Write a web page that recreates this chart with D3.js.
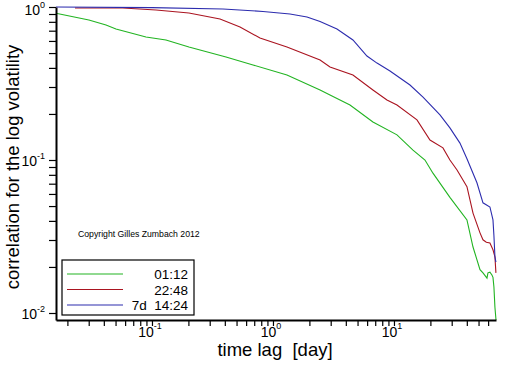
<!DOCTYPE html>
<html><head><meta charset="utf-8">
<script src="https://cdn.jsdelivr.net/npm/d3@7"></script>
<style>
html,body{margin:0;padding:0;background:#fff;}
svg{display:block;font-family:"Liberation Sans",Arial,Helvetica,sans-serif;}
</style></head><body>
<svg id="chart" width="512" height="366"></svg>
<script>
// ---- data ----
const seriesNames = ["01:12", "22:48", "7d  14:24"];
const seriesColors = ["#22b422", "#aa1420", "#2c2cae"];

const greenLag  = [0.0161, 0.0301, 0.0417, 0.0504, 0.0892, 0.1305, 0.202, 0.409, 0.684, 1.305, 2.45, 2.96, 4.33, 6.70, 10.59, 14.36, 18.04, 21.0, 29.0, 40.1, 45.0, 51.4, 54.4, 58.7, 59.8, 62.1, 64.5, 65.8, 67.0, 68.3, 69.7];
const greenCorr = [0.910, 0.822, 0.763, 0.718, 0.637, 0.609, 0.548, 0.471, 0.418, 0.359, 0.287, 0.266, 0.229, 0.177, 0.146, 0.116, 0.100, 0.082, 0.057, 0.0406, 0.027, 0.0192, 0.0183, 0.0169, 0.0183, 0.0185, 0.0177, 0.0171, 0.0148, 0.0109, 0.009];

const redLag  = [0.0231, 0.0576, 0.108, 0.202, 0.365, 0.534, 0.781, 1.305, 2.45, 2.96, 4.58, 6.70, 8.75, 10.59, 15.49, 19.84, 25.4, 29.0, 33.2, 40.1, 45.0, 51.4, 54.4, 58.0, 62.1, 65.8, 68.3, 69.6];
const redCorr = [0.985, 0.985, 0.956, 0.914, 0.835, 0.740, 0.627, 0.548, 0.450, 0.406, 0.359, 0.287, 0.247, 0.229, 0.183, 0.135, 0.120, 0.100, 0.086, 0.067, 0.045, 0.0334, 0.0301, 0.0290, 0.0287, 0.0259, 0.0233, 0.0183];

const blueLag  = [0.0161, 0.1, 0.386, 0.827, 1.382, 1.91, 2.45, 3.38, 4.58, 5.98, 7.24, 9.27, 13.56, 17.38, 24.0, 29.0, 35.1, 40.1, 48.5, 54.4, 62.1, 65.8, 67.0, 68.3, 69.6];
const blueCorr = [1.0, 0.99, 0.970, 0.935, 0.900, 0.860, 0.804, 0.718, 0.609, 0.478, 0.430, 0.382, 0.309, 0.258, 0.197, 0.162, 0.129, 0.102, 0.071, 0.0525, 0.0493, 0.0406, 0.032, 0.0233, 0.0215];

const xTickValues = [0.02,0.03,0.04,0.05,0.06,0.07,0.08,0.09,0.1,0.2,0.3,0.4,0.5,0.6,0.7,0.8,0.9,1,2,3,4,5,6,7,8,9,10,20,30,40,50,60];
const yTickValues = [0.01,0.02,0.03,0.04,0.05,0.06,0.07,0.08,0.09,0.1,0.2,0.3,0.4,0.5,0.6,0.7,0.8,0.9,1];
const xMajor = [0.1, 1, 10];
const xMajorExp = ["-1", "0", "1"];
const yMajor = [0.01, 0.1, 1];
const yMajorExp = ["-2", "-1", "0"];
const xTitle = "time lag  [day]";
const yTitle = "correlation for the log volatility";
const copyright = "Copyright Gilles Zumbach 2012";

// ---- drawing ----
const svg = d3.select("#chart");
const x = d3.scaleLog().domain([0.0161, 69.7]).range([56, 496]);
const y = d3.scaleLog().domain([0.009, 1]).range([320, 7]);

const series = [
  {name: seriesNames[0], color: seriesColors[0], pts: d3.zip(greenLag, greenCorr)},
  {name: seriesNames[1], color: seriesColors[1], pts: d3.zip(redLag, redCorr)},
  {name: seriesNames[2], color: seriesColors[2], pts: d3.zip(blueLag, blueCorr)}
];

const line = d3.line().x(d => x(d[0])).y(d => y(d[1]));
svg.append("g").selectAll("path").data(series).join("path")
  .attr("d", d => line(d.pts))
  .attr("fill", "none")
  .attr("stroke", d => d.color)
  .attr("stroke-width", 1.1);

// y axis
const gy = svg.append("g").attr("transform", "translate(56,0)")
  .call(d3.axisLeft(y).tickValues(yTickValues).tickSize(7).tickSizeOuter(0).tickFormat(""));
gy.select(".domain").attr("stroke", "#000").attr("stroke-width", 2);
gy.selectAll(".tick line").attr("stroke", "#000").attr("stroke-width", 1.2);

// x axis
const gx = svg.append("g").attr("transform", "translate(0,320)")
  .call(d3.axisBottom(x).tickValues(xTickValues).tickSize(6).tickSizeOuter(0).tickFormat(""));
gx.select(".domain").attr("stroke", "#000").attr("stroke-width", 2);
gx.selectAll(".tick line").attr("stroke", "#000").attr("stroke-width", 1.2);

// y major labels
yMajor.forEach((v, i) => {
  const t = svg.append("text").attr("x", 45).attr("y", Math.max(y(v) + 6, 15))
    .attr("text-anchor", "end").attr("font-size", 14).attr("fill", "#000");
  t.append("tspan").text("10");
  t.append("tspan").attr("dy", -7).attr("font-size", 9).text(yMajorExp[i]);
});
// x major labels
xMajor.forEach((v, i) => {
  const t = svg.append("text").attr("x", x(v) - 2).attr("y", 337)
    .attr("text-anchor", "middle").attr("font-size", 14).attr("fill", "#000");
  t.append("tspan").text("10");
  t.append("tspan").attr("dy", -8).attr("font-size", 9).text(xMajorExp[i]);
});

// titles
svg.append("text").attr("x", 275).attr("y", 356).attr("text-anchor", "middle")
  .attr("font-size", 18.5).style("white-space", "pre").text(xTitle);
svg.append("text").attr("transform", "translate(19,167) rotate(-90)").attr("text-anchor", "middle")
  .attr("font-size", 18.5).text(yTitle);

// copyright
svg.append("text").attr("x", 78).attr("y", 237).attr("font-size", 8.7).text(copyright);

// legend
svg.append("rect").attr("x", 62).attr("y", 260).attr("width", 132).attr("height", 55)
  .attr("fill", "#fff").attr("stroke", "#000").attr("stroke-width", 1.2);
const leg = svg.append("g").selectAll("g").data(series).join("g")
  .attr("transform", (d, i) => `translate(0,${274 + i * 15.5})`);
leg.append("line").attr("x1", 67).attr("x2", 123).attr("y1", 0).attr("y2", 0)
  .attr("stroke", d => d.color).attr("stroke-width", 1.1);
leg.append("text").attr("x", 188).attr("y", 5).attr("text-anchor", "end")
  .attr("font-size", 13.5).style("white-space", "pre").text(d => d.name);
</script>
</body></html>
